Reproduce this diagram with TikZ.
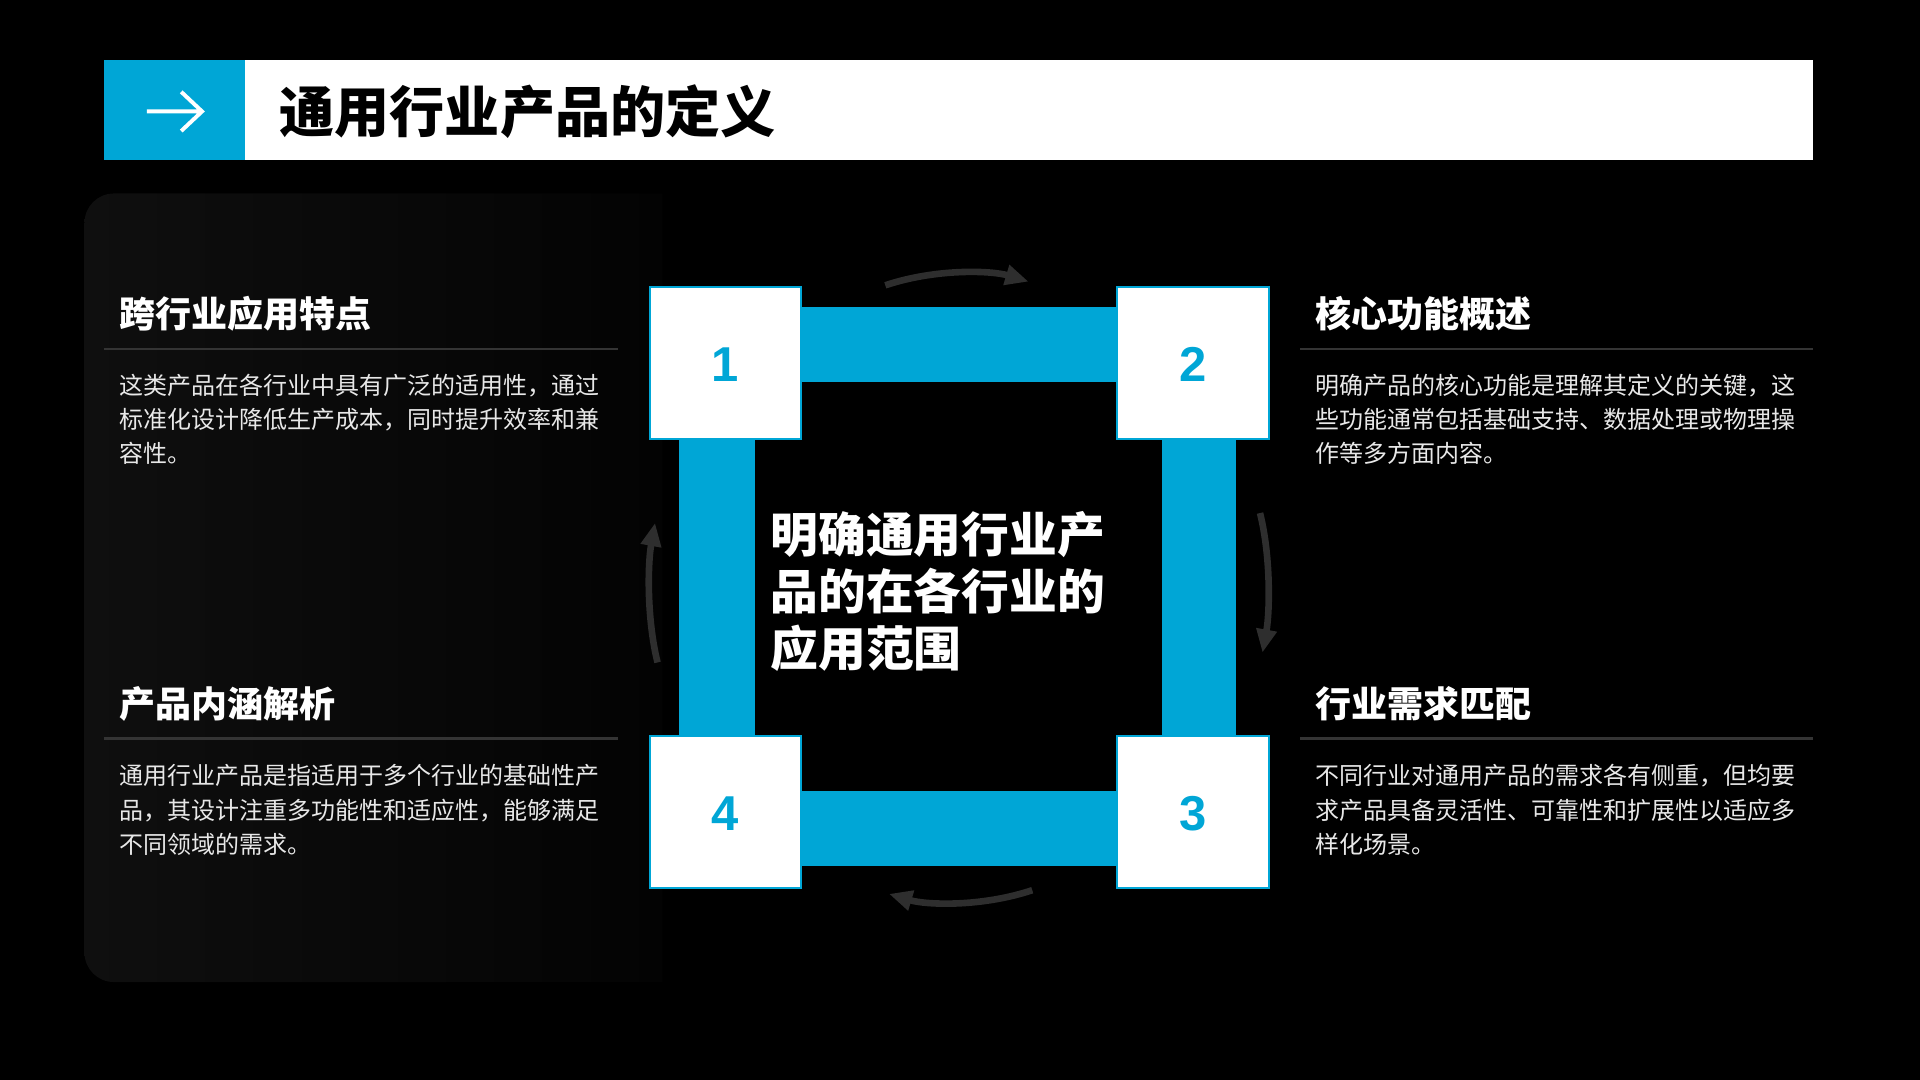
\documentclass[tikz,border=0pt]{standalone}
\usepackage{fontspec}
\setmainfont{Noto Sans CJK SC}
\newfontfamily\digitfont{Liberation Sans}
\usetikzlibrary{arrows.meta,calc}
\definecolor{cyanblue}{RGB}{0,166,214}
\definecolor{panelgray}{RGB}{15,15,15}
\definecolor{panelend}{RGB}{3,3,3}
\definecolor{rulegray}{RGB}{52,52,52}
\definecolor{loopgray}{RGB}{46,46,46}
\definecolor{bodygray}{RGB}{232,232,232}
\begin{document}
\begin{tikzpicture}[x=0.5pt,y=-0.5pt,numbox/.style={draw=cyanblue,line width=0.8pt,fill=white,minimum size=62pt,inner sep=0pt,text height=15.3pt,text=cyanblue,font=\digitfont\bfseries\fontsize{20}{24}\selectfont}]
		\tikzstyle{bar}=[fill=cyanblue]
		\tikzstyle{heading}=[anchor=west,inner sep=0pt,text=white,font=\bfseries\fontsize{14.7}{17}\selectfont]
		\tikzstyle{body}=[anchor=north west,inner sep=0pt,align=left,text=bodygray,font=\fontsize{9.8}{14}\selectfont]
		\tikzstyle{rule}=[draw=rulegray,line width=1pt]
		\tikzstyle{loop}=[draw=loopgray,line width=2.7pt,-{Triangle[length=9.5pt,width=8pt]}]
		\fill[black] (0,0) rectangle (1568,882);
		
		% title bar
		\fill[white] (85,49) rectangle (1481,131);
		\fill[cyanblue] (85,49) rectangle (200,131);
		\draw[white,line width=1.6pt] (120,91) -- (165,91) (148,75) -- (165,91) -- (148,107);
		\node[anchor=west,inner sep=0pt,font=\bfseries\fontsize{22.5}{27}\selectfont] (title) at (228,91) {通用行业产品的定义};
		
		% left panel
		\shade[left color=panelgray,right color=panelend] (541,158) [rounded corners=12pt] -- (69,158) -- (69,802) [sharp corners] -- (541,802) -- cycle;
		
		% four texts
		\node[heading] (h1) at (97,256) {跨行业应用特点};
		\draw[rule] (85,285) -- (505,285);
		\node[body] (t1) at (97,305) {这类产品在各行业中具有广泛的适用性，通过\\标准化设计降低生产成本，同时提升效率和兼\\容性。};
		\node[heading] (h2) at (1074,256) {核心功能概述};
		\draw[rule] (1062,285) -- (1481,285);
		\node[body] (t2) at (1074,305) {明确产品的核心功能是理解其定义的关键，这\\些功能通常包括基础支持、数据处理或物理操\\作等多方面内容。};
		\node[heading] (h4) at (97,575) {产品内涵解析};
		\draw[rule] (85,603) -- (505,603);
		\node[body] (t4) at (97,624) {通用行业产品是指适用于多个行业的基础性产\\品，其设计注重多功能性和适应性，能够满足\\不同领域的需求。};
		\node[heading] (h3) at (1074,575) {行业需求匹配};
		\draw[rule] (1062,603) -- (1481,603);
		\node[body] (t3) at (1074,624) {不同行业对通用产品的需求各有侧重，但均要\\求产品具备灵活性、可靠性和扩展性以适应多\\样化场景。};
		
		% square of boxes
		\node[numbox] (b1) at (592.5,296.5) {1};
		\node[numbox] (b2) at (974,296.5) {2};
		\node[numbox] (b3) at (974,663) {3};
		\node[numbox] (b4) at (592.5,663) {4};
		\fill[bar] ($(b1.north east)+(0,17)$) rectangle ($(b2.north west)+(0,78)$);
		\fill[bar] ($(b2.south west)+(38,0)$) rectangle ($(b3.north west)+(98,0)$);
		\fill[bar] ($(b4.north east)+(0,46)$) rectangle ($(b3.north west)+(0,107)$);
		\fill[bar] ($(b1.south west)+(25,0)$) rectangle ($(b4.north west)+(87,0)$);
		\node[anchor=north west,inner sep=0pt,align=left,text=white,font=\bfseries\fontsize{19.5}{23.25}\selectfont] (core) at (629,417) {明确通用行业产\\品的在各行业的\\应用范围};
		
		% turning arrows
		\draw[loop] (723,233) .. controls (765,219) and (810,221) .. (840,230);
		\draw[loop] (1029,419) .. controls (1038,455) and (1037,500) .. (1031,533);
		\draw[loop] (843,727) .. controls (801,741) and (756,739) .. (726,730);
		\draw[loop] (537,541) .. controls (528,505) and (529,460) .. (535,427);
		
		\end{tikzpicture}
\end{document}
